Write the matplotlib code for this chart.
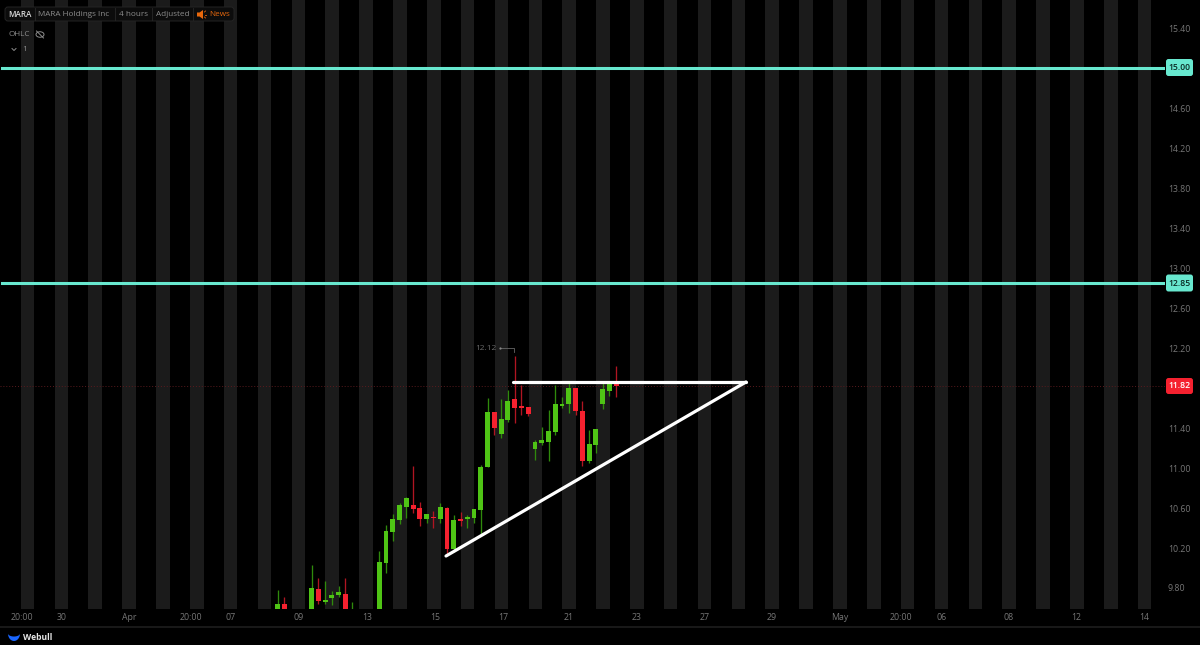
import numpy as np
import matplotlib
matplotlib.use("Agg")
import matplotlib.pyplot as plt
from matplotlib.patches import FancyBboxPatch, Polygon, Ellipse

plt.rcParams['font.family'] = ['Open Sans', 'DejaVu Sans']

nan = float('nan')
# bar index 0..50 (4-hour candles); NaN = entirely below the visible range
opens = [9.40, 9.64, nan, nan, nan, 9.40, 9.787, 9.66, 9.70, 9.727, 9.737, 9.40, nan, nan, nan, 9.40,
         10.05, 10.36, 10.48, 10.61, 10.63, 10.597, 10.49, 10.51, 10.49, 10.597, 10.19, 10.487, 10.49,
         10.50, 10.58, 11.01, 11.557, 11.34, 11.48, 11.687, 11.617, 11.607, 11.19, 11.253, 11.26, 11.36,
         11.623, 11.64, 11.797, 11.567, 11.07, 11.23, 11.64, 11.767, 11.837]
closes = [9.64, 9.40, nan, nan, nan, 9.797, 9.67, 9.68, 9.727, 9.757, 9.40, 9.50, nan, nan, nan, 10.057,
          10.37, 10.487, 10.627, 10.697, 10.587, 10.49, 10.537, 10.497, 10.607, 10.19, 10.477, 10.473, 10.507,
          10.587, 11.007, 11.557, 11.40, 11.487, 11.667, 11.60, 11.603, 11.54, 11.257, 11.277, 11.367, 11.637,
          11.64, 11.797, 11.57, 11.07, 11.237, 11.387, 11.787, 11.847, 11.823]
highs = [9.78, 9.707, nan, nan, nan, 10.027, 9.897, 9.873, 9.773, 9.82, 9.897, 9.657, nan, nan, nan, 10.167,
         10.427, 10.537, 10.647, 10.707, 11.02, 10.657, 10.54, 10.567, 10.647, 10.613, 10.527, 10.557, 10.527,
         10.587, 11.027, 11.697, 11.557, 11.687, 11.777, 12.12, 11.83, 11.61, 11.277, 11.407, 11.577, 11.83,
         11.707, 11.847, 11.797, 11.67, 11.377, 11.393, 11.847, 11.863, 12.02]
lows = [9.40, 9.40, nan, nan, nan, 9.40, 9.64, 9.64, 9.63, 9.71, 9.40, 9.40, nan, nan, nan, 9.40,
        9.95, 10.27, 10.44, 10.50, 10.55, 10.423, 10.45, 10.40, 10.45, 10.13, 10.16, 10.423, 10.40,
        10.453, 10.33, 11.01, 11.33, 11.303, 11.46, 11.453, 11.53, 11.52, 11.08, 11.23, 11.07, 11.33,
        11.60, 11.55, 11.53, 11.02, 11.05, 11.147, 11.59, 11.72, 11.71]

y_ticks = [15.40, 15.00, 14.60, 14.20, 13.80, 13.40, 13.00, 12.60, 12.20, 11.80, 11.40, 11.00, 10.60, 10.20, 9.80]
y_hidden = [15.00, 11.80]
x_tick_pos = [-37.8, -31.9, -21.9, -12.8, -6.9, 3.1, 13.2, 23.2, 33.3, 43.0, 53.0, 63.0, 73.0, 83.0, 92.1, 98.0, 108.0, 118.0, 128.0]
x_tick_labels = ['20:00', '30', 'Apr', '20:00', '07', '09', '13', '15', '17', '21', '23', '27', '29', 'May', '20:00', '06', '08', '12', '14']

resistance_levels = [15.00, 12.85]
last_price = 11.82
peak_price = 12.12
flat_line_x = [34.76, 69.17]
flat_line_y = [11.86, 11.86]
rising_line_x = [24.86, 69.17]
rising_line_y = [10.12, 11.86]

BG = '#000000'; BAND = '#1b1b1b'; GREEN = '#4fc415'; RED = '#f5212f'; TEAL = '#68e8cf'
GREY = '#767676'

W, H = 1200, 645
fig = plt.figure(figsize=(W/100, H/100), dpi=100, facecolor=BG)
ax = fig.add_axes([0, (H-609)/H, 1165/W, 609/H], facecolor=BG)
ax.set_xlim(-41.02, 131.06)
ax.set_ylim(15.4 - 581/100, 15.4 + 28/100)

# session shading, every 5 bars, 2 bars wide
for k in range(-1, 35):
    start = -37.95 + 5*k
    ax.axvspan(start, start + 2, color=BAND, lw=0, zorder=0)

# candles
idx = np.arange(len(opens))
o, c, h, l = map(np.array, (opens, closes, highs, lows))
up = c >= o
ax.vlines(idx[up], l[up], h[up], color='#2f8a0c', lw=0.95, zorder=2)
ax.vlines(idx[~up], l[~up], h[~up], color='#b01522', lw=0.95, zorder=2)
ax.bar(idx[up], (c-o)[up], bottom=o[up], width=0.72, color=GREEN, lw=0, zorder=3)
ax.bar(idx[~up], (c-o)[~up], bottom=o[~up], width=0.72, color=RED, lw=0, zorder=3)

# levels and drawings
ax.axhline(last_price, color='#5a1a1e', lw=0.7, ls=(0, (1, 2)), zorder=1)
for lv in resistance_levels:
    ax.axhline(lv + 0.005, xmin=1.5/1165, color=TEAL, lw=2.2, zorder=4)
ax.plot(flat_line_x, flat_line_y, color='white', lw=2.3, solid_capstyle='round', zorder=5)
ax.plot(rising_line_x, rising_line_y, color='white', lw=2.3, solid_capstyle='round', zorder=5)

for s in ax.spines.values():
    s.set_visible(False)
ax.yaxis.tick_right()
ax.set_yticks(y_ticks)
ax.set_yticklabels(['' if t in y_hidden else f'{t:.2f}' for t in y_ticks])
ax.set_xticks(x_tick_pos)
ax.set_xticklabels(x_tick_labels)
ax.tick_params(axis='y', length=0, pad=2, labelsize=6.3, labelcolor=GREY)
ax.tick_params(axis='x', length=0, pad=3, labelsize=6.3, labelcolor=GREY)

# chrome overlay in pixel coordinates
ov = fig.add_axes([0, 0, 1, 1], facecolor='none', zorder=10)
ov.set_xlim(0, W); ov.set_ylim(H, 0); ov.axis('off')

def badge(x0, x1, y0, y1, col):
    ov.add_patch(FancyBboxPatch((x0+2, y0+2), x1-x0-4, y1-y0-4, boxstyle='round,pad=2,rounding_size=2.5', fc=col, ec='none'))

for lv, y in zip(resistance_levels, (67.5, 283)):
    badge(1166, 1193, y-8.5, y+8.5, TEAL)
    ov.text(1179.5, y, f'{lv:.2f}', color='#0a2a24', fontsize=6.2, ha='center', va='center', fontweight='semibold')
badge(1166, 1193, 378, 394, RED)
ov.text(1179.5, 386, f'{last_price:.2f}', color='white', fontsize=6.2, ha='center', va='center', fontweight='semibold')

# header pill
ov.add_patch(FancyBboxPatch((7, 9), 225, 10, boxstyle='round,pad=2,rounding_size=3', fc='#0c0c0c', ec='#242424', lw=0.7))
for xd in (35, 115, 152, 193):
    ov.plot([xd, xd], [8, 20], color='#242424', lw=0.7)
hdr = dict(fontsize=5.9, va='center', ha='left')
ov.text(8.5, 14.5, 'MARA', color='#d8d8d8', fontweight='semibold', **hdr)
ov.text(38.5, 14.5, 'MARA Holdings Inc', color='#8c8c8c', **hdr)
ov.text(119, 14.5, '4 hours', color='#8c8c8c', **hdr)
ov.text(156, 14.5, 'Adjusted', color='#8c8c8c', **hdr)
ov.text(209, 14.5, 'News', color='#e8680c', **hdr)
ov.add_patch(Polygon([[197, 12.5], [199.5, 12.5], [203, 10], [203, 19], [199.5, 16.5], [197, 16.5]], fc='#e8680c', ec='none'))
ov.plot([204.5, 205.5], [12, 11], color='#e8680c', lw=0.6)
ov.plot([204.5, 206], [14.5, 14.5], color='#e8680c', lw=0.6)
ov.plot([204.5, 205.5], [17, 18], color='#e8680c', lw=0.6)

ov.text(8.5, 34.5, 'OHLC', color='#8c8c8c', fontsize=5.9, va='center', ha='left')
ov.add_patch(Ellipse((40, 34.5), 8, 5.5, fc='none', ec='#8c8c8c', lw=0.7))
ov.plot([36.5, 43.5], [31, 38], color='#8c8c8c', lw=0.7)
ov.plot([12, 14, 16], [48.5, 50.5, 48.5], color='#8c8c8c', lw=0.7)
ov.text(22, 49.5, '1', color='#8c8c8c', fontsize=6, va='center', ha='left')

# high marker
ov.text(496.5, 348, f'{peak_price:.2f}', color='#6a6a6a', fontsize=6, va='center', ha='right')
ov.plot([500, 514, 514], [348, 348, 352], color='#666666', lw=0.6)
ov.plot([500], [348], 'o', color='#888888', ms=1.6, mew=0)

# footer
ov.plot([0, W], [627, 627], color='#1e1e1e', lw=1.2)
t = np.linspace(0, np.pi, 30)
outer = np.column_stack([14 + 6*np.cos(t), 633.5 + 7.5*np.sin(t)])
inner = np.column_stack([14 + 6*np.cos(t[::-1]), 633.5 + 3*np.sin(t[::-1])])
ov.add_patch(Polygon(np.vstack([outer, inner]), fc='#1a66ff', ec='none'))
ov.text(23, 637, 'Webull', color='#e6e6e6', fontsize=6.1, fontweight='bold', va='center', ha='left')

fig.savefig('out.png', dpi=100, facecolor=BG)
